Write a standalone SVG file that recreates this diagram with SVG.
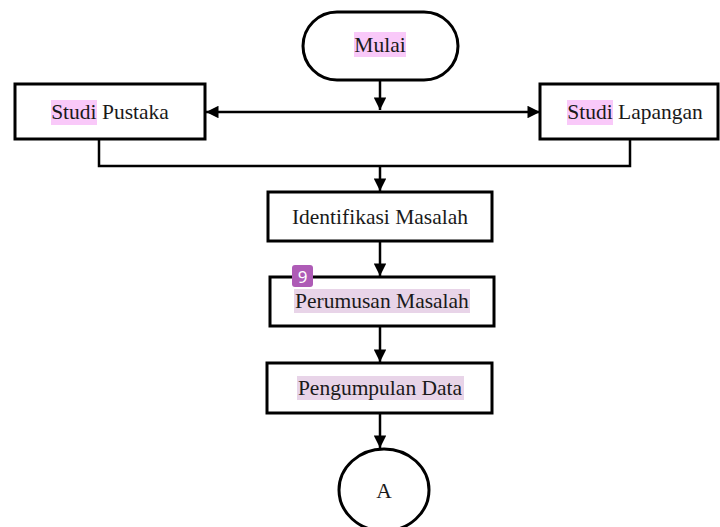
<svg xmlns="http://www.w3.org/2000/svg" width="720" height="527" viewBox="0 0 720 527">
<style>
.box{fill:#fff;stroke:#000;stroke-width:3}
.ln{fill:none;stroke:#000;stroke-width:2.5}
.t{font-family:"Liberation Serif","Times New Roman",serif;font-size:21.5px;fill:#1a1a1a;text-anchor:middle}
.hp{fill:#f9c9f9}
.hl{fill:#e8d4e8}
</style>
<defs>
<marker id="ah" viewBox="0 0 10 10" refX="10" refY="5" markerWidth="5.2" markerHeight="5" orient="auto" markerUnits="strokeWidth">
<path d="M0,0 L10,5 L0,10 z" fill="#000"/>
</marker>
</defs>
<g id="connectors">
<line class="ln" x1="380" y1="80" x2="380" y2="110" marker-end="url(#ah)"/>
<line class="ln" x1="380" y1="112" x2="206" y2="112" marker-end="url(#ah)"/>
<line class="ln" x1="380" y1="112" x2="540" y2="112" marker-end="url(#ah)"/>
<polyline class="ln" points="99,139 99,166 630,166 630,139"/>
<line class="ln" x1="380" y1="166" x2="380" y2="191" marker-end="url(#ah)"/>
<line class="ln" x1="380" y1="241" x2="380" y2="276" marker-end="url(#ah)"/>
<line class="ln" x1="380" y1="326" x2="380" y2="362" marker-end="url(#ah)"/>
<line class="ln" x1="380" y1="413" x2="380" y2="448" marker-end="url(#ah)"/>
</g>
<g id="mulai">
<rect class="box" x="303" y="12" width="155" height="68" rx="34" ry="34"/>
<rect class="hp" x="354" y="32" width="52" height="25"/>
<text class="t" x="380" y="52">Mulai</text>
</g>
<g id="studi-pustaka">
<rect class="box" x="15" y="84" width="190" height="55"/>
<rect class="hp" x="51" y="100" width="46" height="25"/>
<text class="t" x="110" y="119">Studi Pustaka</text>
</g>
<g id="studi-lapangan">
<rect class="box" x="540" y="84" width="178" height="55"/>
<rect class="hp" x="567" y="100" width="46" height="25"/>
<text class="t" x="635" y="119">Studi Lapangan</text>
</g>
<g id="identifikasi">
<rect class="box" x="268" y="192" width="224" height="49"/>
<text class="t" x="380" y="224">Identifikasi Masalah</text>
</g>
<g id="perumusan">
<rect class="box" x="270" y="277" width="224" height="49"/>
<rect class="hl" x="294" y="289" width="176" height="24"/>
<text class="t" x="382" y="308">Perumusan Masalah</text>
<rect x="292" y="265" width="21" height="22" rx="3" fill="#ae5bb6"/>
<text x="302.5" y="282.5" font-family="'Noto Sans',sans-serif" font-size="17" fill="#fff" text-anchor="middle">9</text>
</g>
<g id="pengumpulan">
<rect class="box" x="267" y="363" width="225" height="50"/>
<rect class="hl" x="297" y="376" width="167" height="24"/>
<text class="t" x="380" y="395">Pengumpulan Data</text>
</g>
<g id="A">
<ellipse class="box" cx="384" cy="490" rx="45" ry="41"/>
<text class="t" x="384" y="498">A</text>
</g>
</svg>
